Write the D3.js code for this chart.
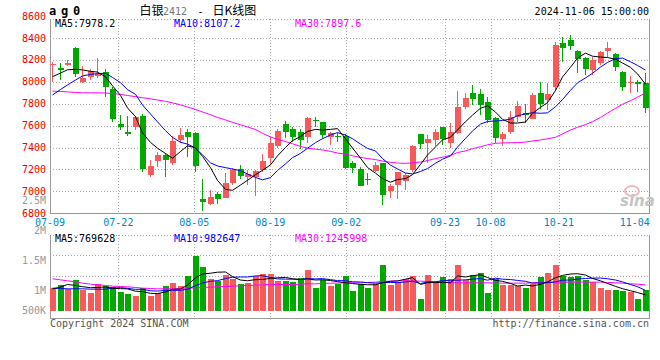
<!DOCTYPE html>
<html>
<head>
<meta charset="utf-8">
<script src="https://cdn.jsdelivr.net/npm/d3@7"></script>
<style>
  body { margin: 0; background: #fff; }
  svg { display: block; }
  text { font-family: "DejaVu Sans Mono", "Liberation Mono", monospace; font-size: 10px; }
</style>
</head>
<body>
<div id="chart"></div>
<script>
// trading days 2024-07-09 .. 2024-11-06
const dates = [
  '07-09','07-10','07-11','07-12','07-15','07-16','07-17','07-18','07-19','07-22',
  '07-23','07-24','07-25','07-26','07-29','07-30','07-31','08-01','08-02','08-05',
  '08-06','08-07','08-08','08-09','08-12','08-13','08-14','08-15','08-16','08-19',
  '08-20','08-21','08-22','08-23','08-26','08-27','08-28','08-29','08-30','09-02',
  '09-03','09-04','09-05','09-06','09-09','09-10','09-11','09-12','09-13','09-18',
  '09-19','09-20','09-23','09-24','09-25','09-26','09-27','09-30','10-08','10-09',
  '10-10','10-11','10-14','10-15','10-16','10-17','10-18','10-21','10-22','10-23',
  '10-24','10-25','10-28','10-29','10-30','10-31','11-01','11-04','11-05','11-06'
];

const open = [
  8152,8126,8151,8309,7998,8044,8053,8087,7938,7612,
  7545,7591,7691,7153,7281,7329,7262,7469,7542,7533,
  6931,6882,6976,6943,7080,7201,7135,7135,7195,7308,
  7414,7615,7570,7539,7500,7650,7630,7500,7503,7506,
  7256,7204,7110,7189,7256,7001,7062,7098,7195,7521,
  7445,7469,7585,7445,7536,7773,7901,7889,7816,7670,
  7481,7545,7676,7719,7661,7901,7834,7956,8357,8382,
  8281,8217,8108,8175,8281,8254,8093,7990,8002,7986
];
const high = [
  8184,8175,8199,8321,8144,8120,8217,8114,7950,7697,
  7688,7688,7709,7287,7363,7347,7506,7582,7567,7545,
  7113,7013,6998,7165,7210,7241,7195,7195,7341,7500,
  7567,7646,7591,7570,7676,7676,7636,7545,7530,7524,
  7278,7226,7165,7271,7262,7068,7180,7165,7424,7524,
  7515,7567,7591,7621,7916,7895,7971,7932,7865,7676,
  7545,7734,7825,7798,7895,8002,7986,8360,8412,8427,
  8290,8224,8224,8281,8360,8266,8099,8053,8020,8084
];
const low = [
  8002,8017,8144,8047,7986,8017,8038,7865,7636,7560,
  7506,7560,7180,7135,7226,7128,7241,7445,7311,7174,
  6824,6876,6882,6937,7060,7116,7055,6961,7180,7244,
  7393,7484,7454,7384,7439,7591,7478,7427,7448,7201,
  7171,7049,7058,7180,6879,6937,6934,7013,7180,7390,
  7256,7414,7424,7399,7524,7752,7786,7697,7627,7445,
  7417,7524,7637,7621,7658,7755,7743,7919,8184,8290,
  8078,8062,8062,8154,8230,8102,7916,7895,7907,7719
];
const close = [
  8160,8108,8172,8068,8035,8096,8074,7956,7661,7591,
  7527,7676,7208,7232,7329,7287,7460,7512,7493,7235,
  6900,6946,6928,7080,7195,7141,7159,7189,7277,7442,
  7551,7545,7500,7469,7670,7645,7518,7530,7500,7214,
  7217,7052,7107,7241,6970,7049,7174,7153,7417,7436,
  7478,7545,7475,7542,7767,7852,7846,7786,7652,7484,
  7524,7676,7782,7697,7883,7798,7889,8336,8312,8330,
  8211,8120,8199,8272,8306,8132,7950,7998,7977,7764
];

const ma5 = [
  8047,8080,8110,8114,8109,8096,8089,8046,7964,7876,
  7762,7682,7533,7447,7394,7346,7303,7364,7416,7397,
  7320,7217,7100,7018,7010,7058,7101,7153,7192,7242,
  7324,7401,7463,7501,7547,7566,7560,7566,7573,7481,
  7396,7303,7218,7166,7117,7084,7108,7117,7153,7246,
  7332,7406,7470,7495,7561,7636,7696,7759,7781,7724,
  7658,7624,7624,7633,7712,7767,7810,7921,8044,8133,
  8216,8262,8234,8226,8222,8206,8172,8132,8073,7978.2
];
const ma10 = [
  7880,7930,7971,8017,8053,8068,8075,8078,8040,7992,
  7929,7886,7789,7706,7635,7554,7493,7448,7432,7396,
  7333,7260,7232,7217,7204,7189,7159,7127,7105,7126,
  7191,7251,7308,7347,7394,7445,7481,7515,7537,7514,
  7481,7432,7392,7369,7299,7240,7205,7168,7159,7182,
  7208,7257,7294,7324,7404,7484,7551,7614,7638,7643,
  7647,7660,7691,7707,7718,7713,7717,7772,7838,7923,
  7991,8036,8078,8135,8177,8211,8217,8183,8150,8107.2
];
const ma30 = [
  7915,7912,7908,7903,7900,7900,7900,7898,7893,7885,
  7875,7865,7855,7845,7834,7822,7808,7790,7770,7748,
  7725,7700,7675,7652,7630,7608,7588,7565,7530,7497,
  7475,7455,7435,7410,7395,7385,7378,7365,7350,7340,
  7325,7310,7300,7290,7277,7265,7258,7256,7260,7268,
  7281,7300,7311,7330,7354,7370,7390,7408,7425,7439,
  7442,7444,7445,7450,7460,7469,7480,7494,7525,7560,
  7585,7610,7636,7675,7715,7758,7795,7828,7860,7897.6
];

const volume = [
  1088000,1215000,1056000,1453000,977000,850000,1262000,1183000,1135000,897000,
  786000,707000,1104000,707000,850000,1167000,1326000,1167000,1643000,2612000,
  2072000,1501000,1405000,1707000,1501000,1262000,1326000,1675000,1739000,1755000,
  1405000,1405000,1374000,1548000,1929000,1119000,1485000,1167000,1294000,1659000,
  929000,1294000,1072000,1294000,2167000,1247000,1374000,1501000,1643000,548000,
  1691000,1374000,1596000,1501000,2167000,1453000,1707000,1786000,850000,1501000,
  1215000,1215000,1167000,1072000,1294000,1596000,1786000,2167000,1643000,1612000,
  1659000,1485000,1358000,1072000,977000,977000,929000,881000,595000,977000
];
const volMa5 = [
  1056000,1135000,1262000,1215000,1158000,1110000,1119000,1145000,1081000,1065000,
  1053000,942000,926000,840000,830000,907000,1031000,1043000,1231000,1583000,
  1764000,1799000,1847000,1859000,1637000,1475000,1440000,1494000,1501000,1551000,
  1580000,1596000,1536000,1497000,1532000,1475000,1491000,1450000,1399000,1345000,
  1307000,1269000,1250000,1250000,1351000,1415000,1431000,1516000,1586000,1262000,
  1351000,1351000,1370000,1342000,1666000,1618000,1685000,1723000,1593000,1459000,
  1412000,1313000,1189000,1234000,1193000,1269000,1383000,1583000,1697000,1761000,
  1774000,1713000,1551000,1437000,1310000,1173000,1062000,967000,878000,769628
];
const volMa10 = [
  1088000,1072000,1056000,1056000,1056000,1040000,1040000,1040000,1088000,1112000,
  1081000,1031000,1035000,961000,948000,980000,986000,984000,1035000,1207000,
  1335000,1415000,1445000,1545000,1610000,1620000,1620000,1670000,1680000,1594000,
  1528000,1518000,1515000,1499000,1542000,1528000,1543000,1493000,1448000,1439000,
  1391000,1380000,1350000,1324000,1348000,1361000,1350000,1383000,1418000,1307000,
  1383000,1391000,1443000,1464000,1464000,1485000,1518000,1547000,1467000,1563000,
  1515000,1499000,1456000,1413000,1326000,1340000,1348000,1386000,1466000,1477000,
  1521000,1548000,1567000,1567000,1536000,1474000,1388000,1259000,1158000,982647
];
const volMa30 = [
  1532000,1485000,1437000,1389000,1326000,1278000,1247000,1215000,1183000,1167000,
  1151000,1119000,1088000,1072000,1056000,1056000,1056000,1072000,1088000,1104000,
  1119000,1135000,1151000,1167000,1183000,1199000,1215000,1231000,1247000,1262000,
  1262000,1262000,1262000,1278000,1294000,1294000,1310000,1326000,1326000,1342000,
  1342000,1342000,1358000,1374000,1405000,1421000,1437000,1437000,1437000,1421000,
  1405000,1389000,1374000,1358000,1342000,1342000,1342000,1342000,1342000,1326000,
  1326000,1326000,1326000,1326000,1342000,1358000,1374000,1374000,1374000,1374000,
  1374000,1374000,1374000,1374000,1358000,1342000,1326000,1294000,1278000,1245998
];

const priceTicks = [6800, 7000, 7200, 7400, 7600, 7800, 8000, 8200, 8400, 8600];
const dateTicks = ['07-09','07-22','08-05','08-19','09-02','09-23','10-08','10-21','11-04'];
const gridDates = ['07-22','08-05','08-19','09-02','09-23','10-08','10-21'];
const volTicks = [2500000, 2000000, 1500000, 1000000, 500000];
const volTickLabels = ['2.5M', '2M', '1.5M', '1M', '500K'];

const RED = '#f65a5a', GREEN = '#00a800';
const GRID = '#aaa', FRAME = '#999';

const svg = d3.select('#chart').append('svg')
  .attr('width', 660)
  .attr('height', 360);

const left = 50, right = 650;
const priceTop = 19, priceBottom = 213.3;
const volTop = 234.5, volBottom = 318, volBase = 311;

const x = d3.scaleBand().domain(dates).range([left, 648.5]).paddingInner(0.2).paddingOuter(0);
const xg = d3.scalePoint().domain(dates).range([left, right]);
const y = d3.scaleLinear().domain([6800, 8600]).range([priceBottom, 16.1]);
const yv = d3.scaleLinear().domain([0, 1000000]).range([volBase, volBase - 21]);
const yvLabel = d3.scaleLinear().domain([1000000, 2500000]).range([290.3, 200.8]);
const yvGrid = d3.scaleLinear().domain([0, 4]).range([volBottom, volTop]);

const px = v => Math.round(v) + 0.5;
const bx = d => Math.round(x(d));
const idx = d3.range(dates.length);

// grid
const grid = svg.append('g')
  .attr('stroke', GRID)
  .attr('stroke-dasharray', '1,2')
  .attr('shape-rendering', 'crispEdges');

grid.selectAll('line.h')
  .data(priceTicks.filter(p => p > 6800 && p < 8600))
  .enter().append('line')
  .attr('x1', left).attr('x2', right)
  .attr('y1', d => px(y(d))).attr('y2', d => px(y(d)));

grid.selectAll('line.vh')
  .data([2, 3])
  .enter().append('line')
  .attr('x1', left).attr('x2', right)
  .attr('y1', d => px(yvGrid(d))).attr('y2', d => px(yvGrid(d)));

[[priceTop, priceBottom], [volTop, volBottom]].forEach(([t, b]) => {
  grid.append('line')
    .attr('x1', left).attr('x2', right)
    .attr('y1', px(t)).attr('y2', px(t));
  grid.selectAll(null)
    .data(gridDates)
    .enter().append('line')
    .attr('x1', d => px(xg(d))).attr('x2', d => px(xg(d)))
    .attr('y1', t).attr('y2', b);
});

// frames
const frame = svg.append('g')
  .attr('stroke', FRAME)
  .attr('shape-rendering', 'crispEdges');
[[priceTop, priceBottom], [volTop, volBottom]].forEach(([t, b]) => {
  frame.append('line').attr('x1', left + 0.5).attr('x2', left + 0.5).attr('y1', t).attr('y2', b + 0.5);
  frame.append('line').attr('x1', right - 0.5).attr('x2', right - 0.5).attr('y1', t).attr('y2', b + 0.5);
  frame.append('line').attr('x1', left).attr('x2', right).attr('y1', px(b)).attr('y2', px(b));
});

// watermark
const wm = svg.append('g');
wm.append('ellipse')
  .attr('cx', 632).attr('cy', 191).attr('rx', 7).attr('ry', 5)
  .attr('fill', 'none').attr('stroke', '#f2b8b8').attr('stroke-width', 2);
wm.append('text')
  .attr('x', 620).attr('y', 206)
  .style('font-family', '"DejaVu Sans", sans-serif')
  .style('font-size', '15px')
  .style('font-style', 'italic')
  .style('font-weight', 'bold')
  .attr('fill', '#c4c4c4')
  .text('sina');

// candles
const candles = svg.append('g').attr('shape-rendering', 'crispEdges');
candles.selectAll('rect.wick')
  .data(idx)
  .enter().append('rect')
  .attr('x', i => bx(dates[i]) + 2)
  .attr('width', 1)
  .attr('y', i => Math.round(y(high[i])))
  .attr('height', i => Math.max(1, Math.round(y(low[i])) - Math.round(y(high[i]))))
  .attr('fill', i => close[i] >= open[i] ? RED : GREEN);

candles.selectAll('rect.body')
  .data(idx)
  .enter().append('rect')
  .attr('x', i => bx(dates[i]))
  .attr('width', x.bandwidth())
  .attr('y', i => Math.round(y(Math.max(open[i], close[i]))))
  .attr('height', i => Math.max(1, Math.round(y(Math.min(open[i], close[i]))) - Math.round(y(Math.max(open[i], close[i])))))
  .attr('fill', i => close[i] >= open[i] ? RED : GREEN);

// volume bars
svg.append('g').attr('shape-rendering', 'crispEdges')
  .selectAll('rect')
  .data(idx)
  .enter().append('rect')
  .attr('x', i => bx(dates[i]))
  .attr('width', x.bandwidth())
  .attr('y', i => Math.round(yv(volume[i])))
  .attr('height', i => volBase - Math.round(yv(volume[i])))
  .attr('fill', i => close[i] >= open[i] ? RED : GREEN);

// moving averages
const cx = i => bx(dates[i]) + 2.5;
const priceLine = d3.line().x(cx);
const volLine = d3.line().x(cx);
[[ma30, '#ff00ff'], [ma10, '#0000ff'], [ma5, '#000']].forEach(([s, c]) => {
  svg.append('path')
    .attr('d', priceLine.y(i => y(s[i]))(idx))
    .attr('fill', 'none').attr('stroke', c).attr('stroke-width', 1);
});
[[volMa30, '#ff00ff'], [volMa10, '#0000ff'], [volMa5, '#000']].forEach(([s, c]) => {
  svg.append('path')
    .attr('d', volLine.y(i => yv(s[i]))(idx))
    .attr('fill', 'none').attr('stroke', c).attr('stroke-width', 1);
});

// axis labels
svg.append('g').selectAll('text')
  .data(priceTicks)
  .enter().append('text')
  .attr('x', 46).attr('y', d => y(d) + 3.5)
  .attr('text-anchor', 'end')
  .attr('fill', '#e00')
  .text(d => d);

svg.append('g').selectAll('text')
  .data(volTicks)
  .enter().append('text')
  .attr('x', 46).attr('y', d => Math.min(yvLabel(d), 310.7) + 3.5)
  .attr('text-anchor', 'end')
  .attr('fill', '#999')
  .text((d, i) => volTickLabels[i]);

svg.append('g').selectAll('text')
  .data(dateTicks)
  .enter().append('text')
  .attr('x', d => xg(d))
  .attr('y', 225.5)
  .attr('text-anchor', 'middle')
  .attr('fill', '#0088cc')
  .text(d => d);

// legends
const last = a => a[a.length - 1];
const legend = (yy, items) => items.forEach(([lx, c, t]) => {
  svg.append('text').attr('x', lx).attr('y', yy).attr('fill', c).text(t);
});
legend(26.5, [
  [55, '#000', 'MA5:' + last(ma5).toFixed(1)],
  [174, '#0000ff', 'MA10:' + last(ma10).toFixed(1)],
  [295, '#ff00ff', 'MA30:' + last(ma30).toFixed(1)]
]);
legend(242, [
  [55, '#000', 'MA5:' + last(volMa5)],
  [174, '#0000ff', 'MA10:' + last(volMa10)],
  [295, '#ff00ff', 'MA30:' + last(volMa30)]
]);

// titles
svg.append('text')
  .attr('x', 49).attr('y', 15)
  .style('font-size', '12px').style('font-weight', 'bold').style('letter-spacing', '-1.2px')
  .attr('fill', '#000')
  .text('a g 0');

const cjk = '"Noto Sans CJK SC", sans-serif';
svg.append('text').attr('x', 139.5).attr('y', 15)
  .style('font-family', cjk).style('font-size', '12px').attr('fill', '#000').text('白银');
svg.append('text').attr('x', 163).attr('y', 15)
  .style('font-size', '10px').attr('fill', '#777').text('2412');
svg.append('text').attr('x', 197.5).attr('y', 15)
  .attr('fill', '#000').text('-');
svg.append('text').attr('x', 212.5).attr('y', 15)
  .style('font-family', cjk).style('font-size', '12px').attr('fill', '#000').text('日K线图');

svg.append('text')
  .attr('x', 649).attr('y', 15)
  .attr('text-anchor', 'end')
  .attr('fill', '#000')
  .text('2024-11-06 15:00:00');

svg.append('text')
  .attr('x', 50).attr('y', 326.5)
  .attr('fill', '#555')
  .text('Copyright 2024 SINA.COM');
svg.append('text')
  .attr('x', 649).attr('y', 326.5)
  .attr('text-anchor', 'end')
  .attr('fill', '#555')
  .text('http://finance.sina.com.cn');
</script>
</body>
</html>
